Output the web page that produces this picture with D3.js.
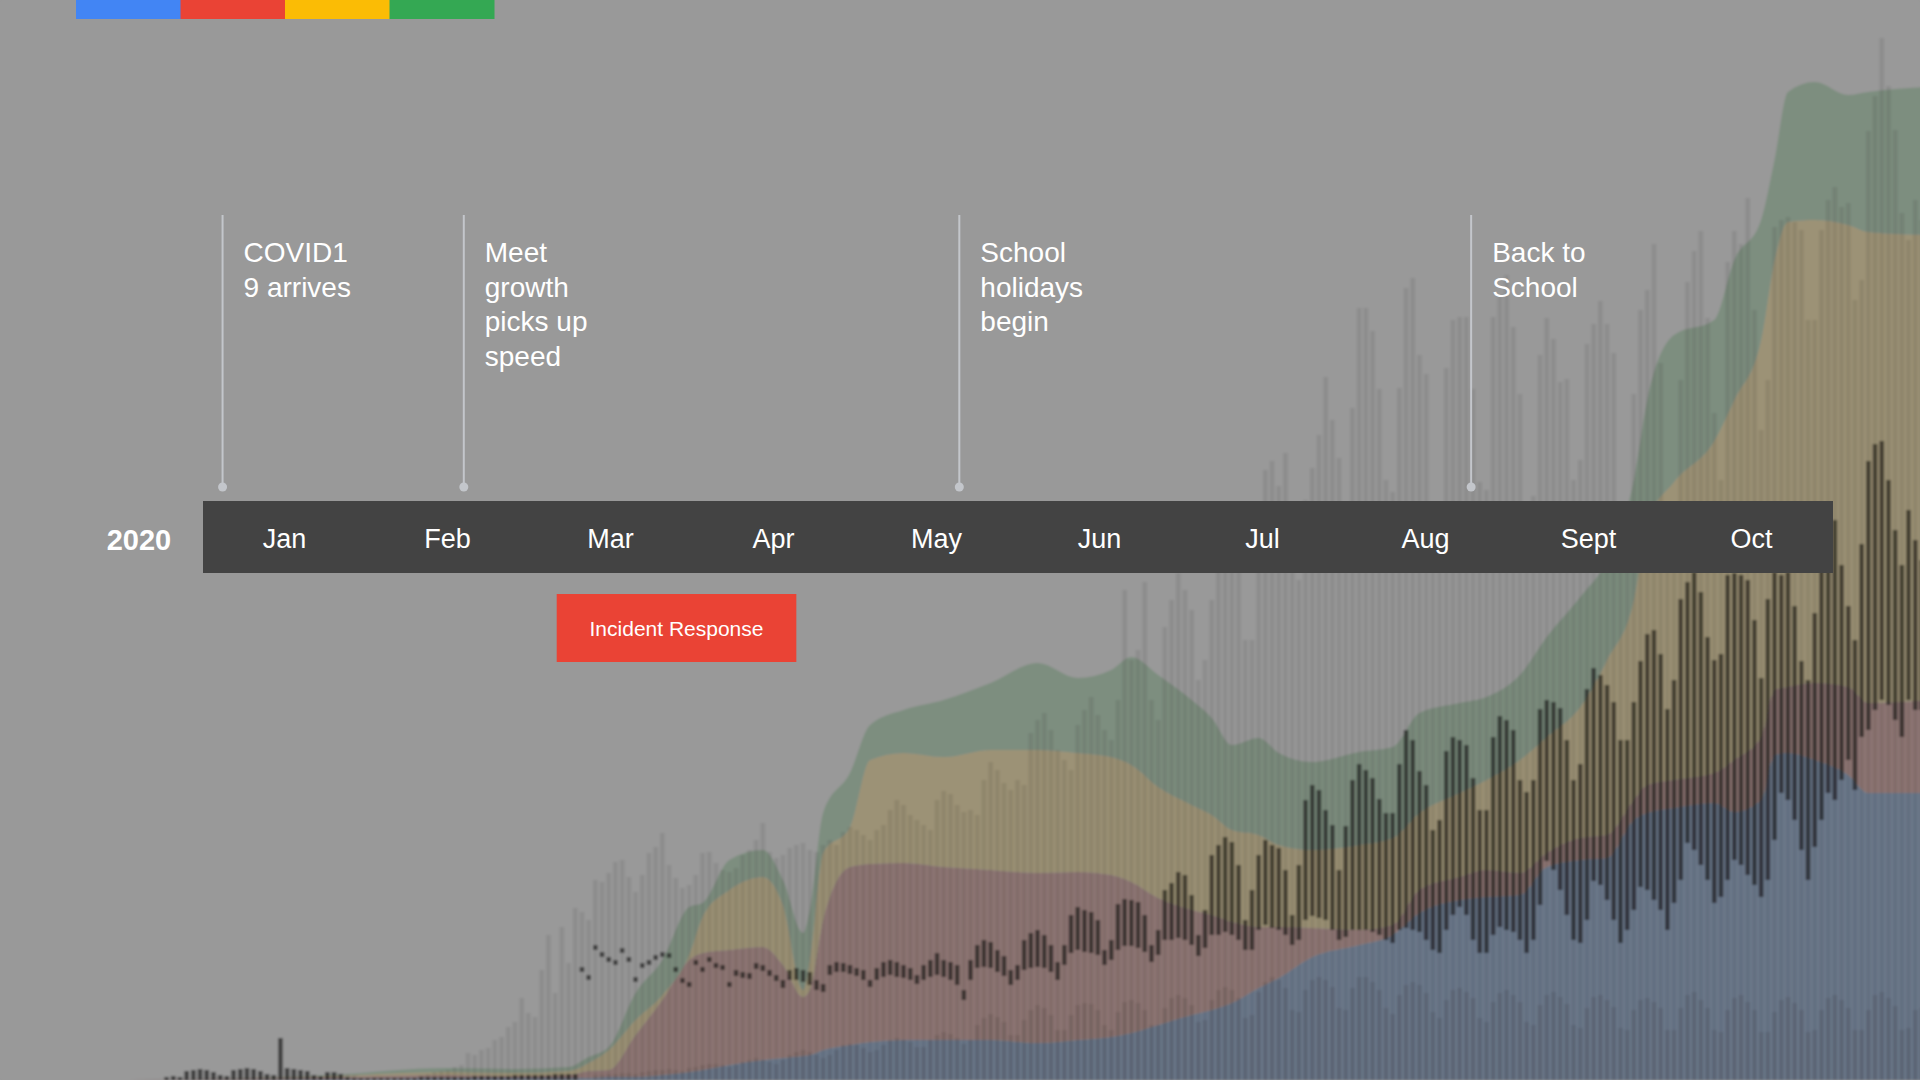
<!DOCTYPE html>
<html lang="en">
<head>
<meta charset="utf-8">
<title>Meet growth 2020</title>
<script src="https://d3js.org/d3.v7.min.js"></script>
<style>
	html, body { margin: 0; padding: 0; background: #999999; }
	svg { display: block; font-family: "Liberation Sans", Arial, sans-serif; }
</style>
</head>
<body>
<div id="chart"></div>
<script>
//timeline labels
var months = ["Jan", "Feb", "Mar", "Apr", "May", "Jun", "Jul", "Aug", "Sept", "Oct"];
var yearLabel = "2020";

//annotations, placed in months from the start of the year
var noteAt = [0.12, 1.6, 4.64, 7.78];
var noteText = [
	["COVID1", "9 arrives"],
	["Meet", "growth", "picks up", "speed"],
	["School", "holidays", "begin"],
	["Back to", "School"]
];
var incidentSpan = [2.17, 3.64];
var incidentLabel = "Incident Response";
var brandColors = ["#4285F4", "#EA4335", "#FBBC05", "#34A853"];

//faded chart behind the timeline: daily values, one row per week (Sun..Sat)
var dailyTotal = [
	0,0,0,0,0,0,3,
	4,3,9,10,11,10,8,
	5,4,10,11,12,11,9,
	6,5,42,12,11,10,9,
	5,4,8,8,7,6,5,
	2,2,3,3,3,3,3,
	3,3,5,6,8,9,10,
	13,15,27,25,30,32,40,
	43,53,58,82,67,63,110,
	145,87,153,117,172,168,160,
	200,198,207,218,220,203,188,
	205,227,233,247,215,202,192,
	195,205,227,228,217,210,208,
	212,225,230,240,257,228,222,
	225,232,235,237,230,228,235,
	240,235,248,253,250,245,240,
	250,255,270,280,275,265,260,
	255,250,280,289,286,275,268,
	270,265,300,318,310,297,290,
	300,295,347,360,367,350,330,
	320,310,355,370,383,365,350,
	340,380,490,420,430,498,380,
	360,453,480,507,490,470,400,
	420,480,520,550,560,540,440,
	440,540,610,619,594,627,520,
	500,580,612,645,703,660,622,
	540,672,772,772,749,691,600,
	588,692,792,802,725,706,560,
	560,712,760,763,763,691,598,
	590,763,784,805,753,686,560,
	584,725,762,741,698,701,600,
	620,736,756,779,756,727,570,
	570,686,770,790,836,717,560,
	560,700,798,829,849,762,667,
	600,818,849,836,882,770,650,
	700,853,860,863,858,850,760,
	760,850,880,893,873,877,780,
	800,949,984,1042,994,950,867,
	840,880,860
];

//dark daily range bars: bottom and top of each bar
var dailyLow = [
	0,0,0,0,0,0,0,
	0,0,0,0,0,0,0,
	0,0,0,0,0,0,0,
	0,0,0,0,0,0,0,
	0,0,0,0,0,0,0,
	0,0,0,0,0,0,0,
	0,0,0,0,0,0,0,
	0,0,0,0,0,0,0,
	0,0,0,0,0,0,0,
	0,0,0,0,0,108,100,
	130,123,118,115,127,118,98,
	112,115,120,123,122,108,97,
	93,115,108,118,112,110,93,
	104,102,101,111,109,104,99,
	92,100,100,98,95,90,88,
	105,108,108,106,104,100,93,
	100,103,105,103,102,100,96,
	100,103,105,103,100,95,80,
	100,112,113,112,108,104,95,
	100,110,112,113,112,108,100,
	115,127,130,128,127,125,115,
	120,130,134,134,132,128,118,
	125,140,140,142,140,135,124,
	132,145,145,148,145,140,130,
	130,150,155,152,150,145,135,
	140,160,164,162,160,150,140,
	143,150,150,150,148,145,140,
	137,150,152,150,148,140,130,
	127,150,165,173,165,140,127,
	127,145,153,150,148,140,127,
	140,175,219,210,190,165,140,
	137,160,199,195,180,160,137,
	150,170,193,190,180,170,150,
	177,200,237,230,215,200,177,
	183,200,220,215,205,195,183,
	200,240,287,280,260,230,200,
	233,260,287,280,300,320,290,
	343,350,370,380,375,360,343,
	380,370,370
];
var dailyHigh = [
	0,0,0,0,0,0,3,
	4,3,9,10,11,10,8,
	5,4,10,11,12,11,9,
	6,5,42,12,11,10,9,
	5,4,8,8,6,3,2,
	2,2,2,2,2,2,2,
	2,2,3,3,3,3,3,
	3,3,3,4,4,4,4,
	4,4,5,5,5,5,5,
	5,6,6,6,6,113,105,
	135,128,123,120,132,123,103,
	117,120,125,128,127,113,102,
	98,120,113,123,117,115,98,
	110,108,107,117,115,110,105,
	100,110,112,110,108,100,96,
	115,118,117,115,112,110,100,
	112,118,120,118,115,112,105,
	115,120,127,120,118,115,90,
	120,135,140,138,130,124,110,
	115,140,147,150,145,135,118,
	135,165,173,170,168,160,130,
	140,176,181,180,178,165,135,
	150,190,197,208,205,185,145,
	170,225,235,243,238,215,160,
	190,225,240,235,232,210,165,
	215,280,295,290,270,255,210,
	254,300,316,310,302,281,267,
	267,316,350,340,309,295,250,
	260,329,343,340,335,302,270,
	270,343,364,360,350,300,288,
	300,371,380,378,372,340,300,
	316,391,412,405,395,378,340,
	340,378,419,446,450,426,371,
	400,481,498,508,488,443,420,
	426,505,507,505,500,460,402,
	481,508,505,508,474,419,400,
	467,543,570,560,515,474,440,
	536,619,636,639,600,550,515,
	570,540,520
];

//lower daily bars
var dailyBase = [
	0,0,0,0,0,0,0,
	0,0,0,0,0,0,0,
	0,0,0,0,0,0,0,
	0,0,0,0,0,0,0,
	0,0,0,0,0,0,0,
	0,0,0,0,0,0,0,
	0,0,0,0,0,0,0,
	0,0,0,0,0,0,0,
	0,0,0,0,0,0,0,
	0,0,0,0,0,0,0,
	5,5,6,6,7,7,6,
	8,9,10,10,11,10,9,
	12,13,15,16,16,15,13,
	15,18,20,22,20,18,16,
	20,25,28,30,28,25,22,
	25,30,35,36,35,32,28,
	30,35,40,42,40,38,33,
	33,40,45,48,46,42,36,
	40,55,62,66,63,58,45,
	45,60,70,75,72,65,50,
	50,65,75,77,76,70,55,
	50,68,78,80,77,70,55,
	55,72,82,85,82,75,58,
	60,80,90,93,90,82,62,
	65,88,98,103,100,92,70,
	68,90,100,103,100,93,72,
	70,92,103,103,98,90,72,
	66,85,95,98,95,87,68,
	62,80,90,92,88,82,62,
	58,78,87,90,85,78,58,
	55,75,85,88,83,76,55,
	52,72,83,85,80,73,52,
	50,70,80,82,78,72,50,
	50,72,85,88,80,72,50,
	48,70,82,85,78,70,48,
	48,68,80,83,77,70,48,
	50,70,82,85,80,72,50,
	50,70,85,88,82,74,50,
	52,70,72
];

//smoothed stacked layers, sampled on these days
var layerDays = [0,30,48,58,66,69,72,76,80,84,86,90,95,98,101,102,104,108,111,116,122,129,136,142,147,150,154,159,162,165,169,172,177,184,189,193,199,203,208,212,217,221,225,227,231,237,240,244,246,248,252,257,260,269];
var layerBlue = [0,1,2,2,2,2,3,3,5,8,10,15,20,22,24,25,30,35,38,40,40,40,37,40,43,47,55,65,70,77,92,102,123,135,145,167,180,183,185,213,220,222,260,267,272,277,268,280,325,327,320,305,287,287];
var layerRed = [0,2,3,2,3,7,7,42,75,112,117,115,113,93,59,65,130,178,178,177,173,170,170,168,162,151,127,105,95,81,61,51,29,15,10,23,23,27,22,14,22,23,20,28,28,30,52,63,65,66,77,88,90,93];
var layerYellow = [0,1,3,3,4,8,20,15,5,5,36,60,70,60,7,30,67,40,104,110,110,120,123,119,118,117,111,105,100,92,92,82,78,85,87,77,84,90,113,116,131,175,200,262,298,332,360,397,430,465,463,462,471,465];
var layerGreen = [0,1,4,4,4,6,3,27,35,48,14,30,27,25,57,50,40,54,35,43,57,67,87,75,87,108,112,105,97,85,97,92,88,93,91,100,90,83,85,100,110,100,120,123,147,121,140,120,100,130,138,130,140,148];

var width = 1920;
var height = 1080;

var svg = d3.select("#chart")
	.append("svg")
	.attr("width", width)
	.attr("height", height);

//soft focus for the chart behind the timeline
svg.append("defs")
	.append("filter")
	.attr("id", "soft")
	.attr("x", 0).attr("y", 0).attr("width", 1).attr("height", 1)
	.append("feGaussianBlur")
	.attr("stdDeviation", 0.8);

svg.append("rect")
	.attr("width", width)
	.attr("height", height)
	.attr("fill", "#999999");

//scales for the faded chart
var days = d3.range(dailyTotal.length);
var x = d3.scaleBand()
	.domain(days)
	.range([123, 123 + 6.7 * days.length])
	.paddingInner(0.3)
	.paddingOuter(0.15);
var xDay = d3.scaleLinear()
	.domain([0, days.length])
	.range(x.range());
var y = d3.scaleLinear()
	.domain([0, 1050])
	.range([height, 30]);

//stacked layers
var rows = layerDays.map(function(d, i) {
	return {day: d, blue: layerBlue[i], red: layerRed[i], yellow: layerYellow[i], green: layerGreen[i]};
});
var keys = ["blue", "red", "yellow", "green"];
var layerFill = {blue: "#6d7a8c", red: "#8f7775", yellow: "#9c9276", green: "#7d8e7f"};
var layers = d3.stack().keys(keys)(rows);

var area = d3.area()
	.x(function(d) { return xDay(d.data.day + 0.5); })
	.y0(function(d) { return y(d[0]); })
	.y1(function(d) { return y(d[1]); })
	.curve(d3.curveMonotoneX);

var back = svg.append("g")
	.attr("class", "background-chart")
	.attr("filter", "url(#soft)");

back.append("rect")
	.attr("width", width)
	.attr("height", height)
	.attr("fill", "#999999");

back.selectAll(".layer")
	.data(layers)
	.enter().append("path")
	.attr("class", "layer")
	.attr("d", area)
	.attr("fill", function(d) { return layerFill[d.key]; });

//daily totals
back.append("g")
	.selectAll("rect")
	.data(days)
	.enter().append("rect")
	.attr("x", function(d) { return x(d); })
	.attr("width", x.bandwidth())
	.attr("y", function(d) { return y(dailyTotal[d]); })
	.attr("height", function(d) { return y(0) - y(dailyTotal[d]); })
	.attr("fill", "#000")
	.attr("fill-opacity", 0.08);

//lower bars
back.append("g")
	.selectAll("rect")
	.data(days)
	.enter().append("rect")
	.attr("x", function(d) { return x(d); })
	.attr("width", x.bandwidth())
	.attr("y", function(d) { return y(dailyBase[d]); })
	.attr("height", function(d) { return y(0) - y(dailyBase[d]); })
	.attr("fill", "#000")
	.attr("fill-opacity", 0.09);

//dark range bars
back.append("g")
	.selectAll("rect")
	.data(days)
	.enter().append("rect")
	.attr("x", function(d) { return x(d); })
	.attr("width", x.bandwidth())
	.attr("y", function(d) { return y(dailyHigh[d]); })
	.attr("height", function(d) { return y(dailyLow[d]) - y(dailyHigh[d]); })
	.attr("fill", "#000")
	.attr("fill-opacity", 0.52);

//brand strip top left
var brand = d3.scaleBand().domain(brandColors).range([76, 494]);
svg.selectAll(".brand")
	.data(brandColors)
	.enter().append("rect")
	.attr("class", "brand")
	.attr("x", function(d) { return brand(d); })
	.attr("y", 0)
	.attr("width", brand.bandwidth() + 0.5)
	.attr("height", 19)
	.attr("fill", function(d) { return d; });

//timeline
var tl = d3.scaleBand().domain(months).range([203, 1833]);
var tm = d3.scaleLinear().domain([0, months.length]).range([203, 1833]);

svg.append("rect")
	.attr("x", tm(0))
	.attr("y", 501)
	.attr("width", tm(months.length) - tm(0))
	.attr("height", 72)
	.attr("fill", "#434343");

svg.selectAll(".month")
	.data(months)
	.enter().append("text")
	.attr("class", "month")
	.attr("x", function(d) { return tl(d) + tl.bandwidth() / 2; })
	.attr("y", 548)
	.attr("text-anchor", "middle")
	.attr("fill", "#fff")
	.style("font-size", "27px")
	.text(function(d) { return d; });

svg.append("text")
	.attr("x", 139)
	.attr("y", 550)
	.attr("text-anchor", "middle")
	.attr("fill", "#fff")
	.style("font-size", "29px")
	.style("font-weight", "bold")
	.text(yearLabel);

//annotation markers
var notes = svg.selectAll(".note")
	.data(noteAt)
	.enter().append("g")
	.attr("class", "note")
	.attr("transform", function(d) { return "translate(" + tm(d) + ",0)"; });

notes.append("line")
	.attr("x1", 0).attr("x2", 0)
	.attr("y1", 215).attr("y2", 487)
	.attr("stroke", "#c3c6cb")
	.attr("stroke-width", 2);

notes.append("circle")
	.attr("cx", 0)
	.attr("cy", 487)
	.attr("r", 4.5)
	.attr("fill", "#c3c6cb");

notes.append("text")
	.attr("fill", "#fff")
	.style("font-size", "28px")
	.selectAll("tspan")
	.data(function(d, i) { return noteText[i]; })
	.enter().append("tspan")
	.attr("x", 21)
	.attr("y", function(d, i) { return 262 + i * 34.5; })
	.text(function(d) { return d; });

//incident response period
svg.append("rect")
	.attr("x", tm(incidentSpan[0]))
	.attr("y", 594)
	.attr("width", tm(incidentSpan[1]) - tm(incidentSpan[0]))
	.attr("height", 68)
	.attr("fill", "#EA4335");

svg.append("text")
	.attr("x", (tm(incidentSpan[0]) + tm(incidentSpan[1])) / 2)
	.attr("y", 636)
	.attr("text-anchor", "middle")
	.attr("fill", "#fff")
	.style("font-size", "21px")
	.text(incidentLabel);
</script>
</body>
</html>
